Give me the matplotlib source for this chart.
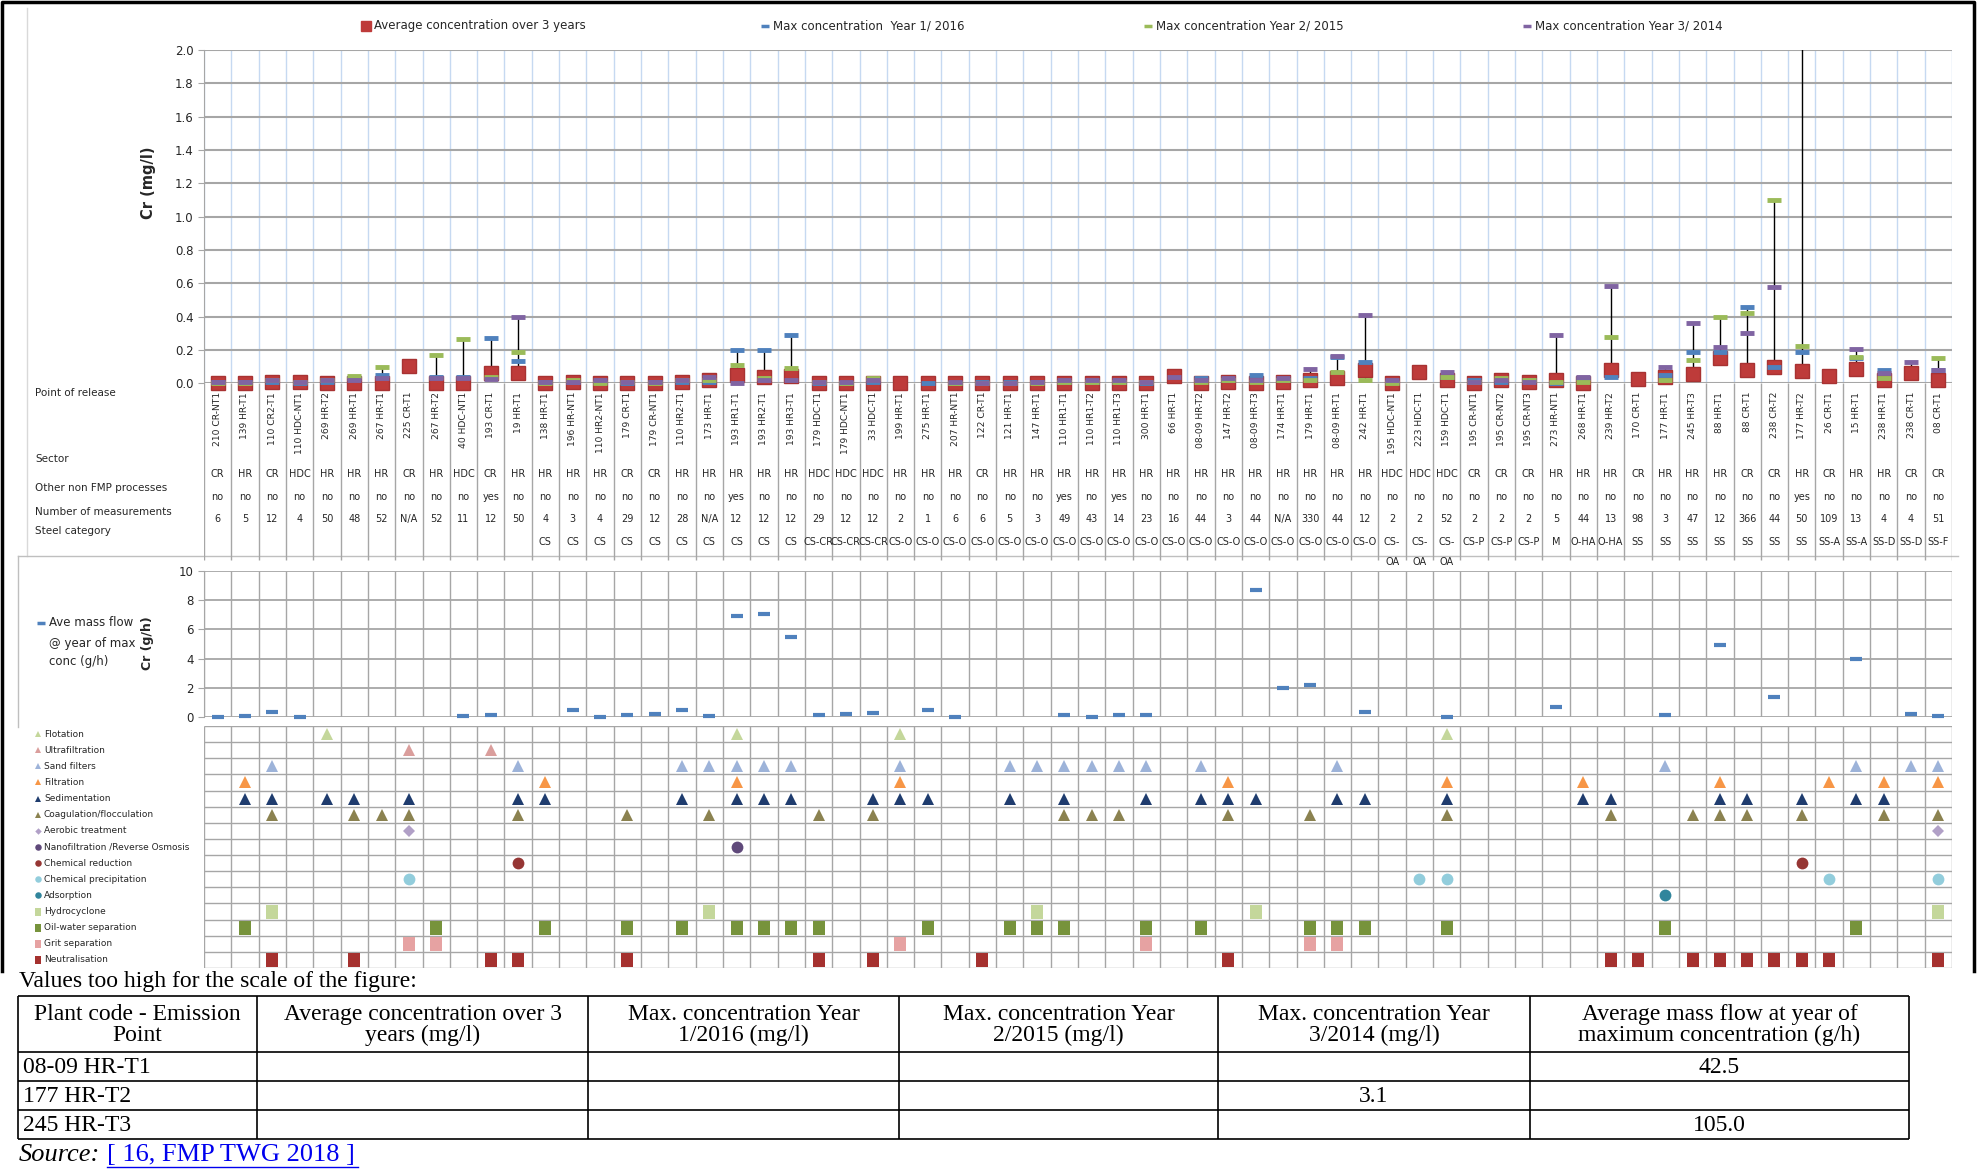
import numpy as np
import matplotlib.pyplot as plt

nan = np.nan

# ---- data ----
points = ["210 CR-NT1", "139 HR-T1", "110 CR2-T1", "110 HDC-NT1", "269 HR-T2", "269 HR-T1", "267 HR-T1",
          "225 CR-T1", "267 HR-T2", "40 HDC-NT1", "193 CR-T1", "19 HR-T1", "138 HR-T1", "196 HR-NT1",
          "110 HR2-NT1", "179 CR-T1", "179 CR-NT1", "110 HR2-T1", "173 HR-T1", "193 HR1-T1", "193 HR2-T1",
          "193 HR3-T1", "179 HDC-T1", "179 HDC-NT1", "33 HDC-T1", "199 HR-T1", "275 HR-T1", "207 HR-NT1",
          "122 CR-T1", "121 HR-T1", "147 HR-T1", "110 HR1-T1", "110 HR1-T2", "110 HR1-T3", "300 HR-T1",
          "66 HR-T1", "08-09 HR-T2", "147 HR-T2", "08-09 HR-T3", "174 HR-T1", "179 HR-T1", "08-09 HR-T1",
          "242 HR-T1", "195 HDC-NT1", "223 HDC-T1", "159 HDC-T1", "195 CR-NT1", "195 CR-NT2", "195 CR-NT3",
          "273 HR-NT1", "268 HR-T1", "239 HR-T2", "170 CR-T1", "177 HR-T1", "245 HR-T3", "88 HR-T1",
          "88 CR-T1", "238 CR-T2", "177 HR-T2", "26 CR-T1", "15 HR-T1", "238 HR-T1", "238 CR-T1", "08 CR-T1"]

sector = ["CR", "HR", "CR", "HDC", "HR", "HR", "HR", "CR", "HR", "HDC",
          "CR", "HR", "HR", "HR", "HR", "CR", "CR", "HR", "HR", "HR",
          "HR", "HR", "HDC", "HDC", "HDC", "HR", "HR", "HR", "CR", "HR",
          "HR", "HR", "HR", "HR", "HR", "HR", "HR", "HR", "HR", "HR",
          "HR", "HR", "HR", "HDC", "HDC", "HDC", "CR", "CR", "CR", "HR",
          "HR", "HR", "CR", "HR", "HR", "HR", "CR", "CR", "HR", "CR",
          "HR", "HR", "CR", "CR"]

other_proc = ["no", "no", "no", "no", "no", "no", "no", "no", "no", "no",
              "yes", "no", "no", "no", "no", "no", "no", "no", "no", "yes",
              "no", "no", "no", "no", "no", "no", "no", "no", "no", "no",
              "no", "yes", "no", "yes", "no", "no", "no", "no", "no", "no",
              "no", "no", "no", "no", "no", "no", "no", "no", "no", "no",
              "no", "no", "no", "no", "no", "no", "no", "no", "yes", "no",
              "no", "no", "no", "no"]

n_meas = ["6", "5", "12", "4", "50", "48", "52", "N/A", "52", "11",
          "12", "50", "4", "3", "4", "29", "12", "28", "N/A", "12",
          "12", "12", "29", "12", "12", "2", "1", "6", "6", "5",
          "3", "49", "43", "14", "23", "16", "44", "3", "44", "N/A",
          "330", "44", "12", "2", "2", "52", "2", "2", "2", "5",
          "44", "13", "98", "3", "47", "12", "366", "44", "50", "109",
          "13", "4", "4", "51"]

steel = ["", "", "", "", "", "", "", "", "", "",
         "", "", "CS", "CS", "CS", "CS", "CS", "CS", "CS", "CS",
         "CS", "CS", "CS-CR", "CS-CR", "CS-CR", "CS-O", "CS-O", "CS-O", "CS-O", "CS-O",
         "CS-O", "CS-O", "CS-O", "CS-O", "CS-O", "CS-O", "CS-O", "CS-O", "CS-O", "CS-O",
         "CS-O", "CS-O", "CS-O", "CS-\nOA", "CS-\nOA", "CS-\nOA", "CS-P", "CS-P", "CS-P", "M",
         "O-HA", "O-HA", "SS", "SS", "SS", "SS", "SS", "SS", "SS", "SS-A",
         "SS-A", "SS-D", "SS-D", "SS-F"]

avg_conc = [0.0, 0.0, 0.01, 0.01, 0.0, 0.0, 0.0, 0.105, 0.0, 0.0,
            0.06, 0.06, 0.0, 0.01, 0.0, 0.0, 0.0, 0.01, 0.02, 0.05,
            0.04, 0.045, 0.0, 0.0, 0.0, 0.0, 0.0, 0.0, 0.0, 0.0,
            0.0, 0.0, 0.0, 0.0, 0.0, 0.045, 0.0, 0.01, 0.0, 0.01,
            0.02, 0.03, 0.08, 0.0, 0.07, 0.02, 0.0, 0.02, 0.01, 0.02,
            0.0, 0.08, 0.025, 0.04, 0.055, 0.15, 0.08, 0.10, 0.075, 0.045,
            0.085, 0.02, 0.06, 0.02]

max_2016 = [0.01, 0.01, 0.01, 0.0, 0.01, 0.03, 0.05, nan, 0.04, 0.04,
            0.27, 0.135, 0.01, 0.01, 0.01, 0.0, 0.01, 0.01, 0.01, 0.20,
            0.20, 0.29, 0.0, 0.0, 0.01, nan, 0.0, 0.0, 0.01, 0.01,
            0.01, 0.01, 0.01, 0.01, 0.0, nan, 0.03, 0.02, 0.05, 0.02,
            0.03, 0.16, 0.13, 0.01, nan, 0.04, 0.02, 0.01, 0.02, 0.0,
            0.03, 0.04, nan, 0.05, 0.19, 0.19, 0.46, 0.10, 0.19, nan,
            0.15, 0.08, nan, 0.08]

max_2015 = [0.0, 0.0, 0.02, 0.01, 0.02, 0.045, 0.10, nan, 0.17, 0.265,
            0.04, 0.19, 0.0, 0.02, 0.0, 0.01, 0.0, 0.02, 0.02, 0.11,
            0.03, 0.09, 0.01, 0.0, 0.03, nan, nan, 0.0, 0.0, 0.0,
            0.0, 0.01, 0.01, 0.01, 0.01, nan, 0.01, 0.02, 0.01, 0.02,
            0.02, 0.07, 0.02, 0.0, nan, 0.04, 0.01, 0.03, 0.02, 0.01,
            0.01, 0.28, nan, 0.02, 0.14, 0.40, 0.42, 1.10, 0.225, nan,
            0.16, 0.03, nan, 0.15]

max_2014 = [0.01, 0.01, 0.02, 0.01, 0.02, 0.02, 0.03, nan, 0.03, 0.03,
            0.025, 0.40, 0.01, 0.01, 0.02, 0.01, 0.01, 0.02, 0.04, 0.0,
            0.02, 0.02, 0.01, 0.01, 0.02, nan, nan, 0.01, 0.0, 0.0,
            0.01, 0.02, 0.02, 0.02, 0.01, 0.04, 0.02, 0.03, 0.02, 0.03,
            0.085, 0.165, 0.41, 0.02, nan, 0.07, 0.01, 0.02, 0.01, 0.29,
            0.04, 0.585, nan, 0.10, 0.36, 0.215, 0.30, 0.58, 3.1, nan,
            0.205, 0.06, 0.13, 0.08]

mass_flow = [0.05, 0.1, 0.39, 0.05, nan, nan, nan, nan, nan, 0.1,
             0.18, nan, nan, 0.52, 0.05, 0.18, 0.23, 0.5, 0.07, 6.9,
             7.03, 5.5, 0.16, 0.2, 0.32, nan, 0.5, 0.0, nan, nan,
             nan, 0.15, 0.05, 0.13, 0.13, nan, nan, nan, 8.68, 2.0,
             2.2, nan, 0.36, nan, nan, 0.03, nan, nan, nan, 0.7,
             nan, nan, nan, 0.13, nan, 4.9, nan, 1.37, nan, nan,
             3.97, nan, 0.24, 0.12]

tech_names = ["Flotation", "Ultrafiltration", "Sand filters", "Filtration", "Sedimentation",
              "Coagulation/flocculation", "Aerobic treatment", "Nanofiltration /Reverse Osmosis",
              "Chemical reduction", "Chemical precipitation", "Adsorption", "Hydrocyclone",
              "Oil-water separation", "Grit separation", "Neutralisation"]
# column numbers (1-based) where each technique is applied
tech_columns = [
    [5, 20, 26, 46],
    [8, 11],
    [3, 12, 18, 19, 20, 21, 22, 26, 30, 31, 32, 33, 34, 35, 37, 42, 54, 61, 63, 64],
    [2, 13, 20, 26, 38, 46, 51, 56, 60, 62, 64],
    [2, 3, 5, 6, 8, 12, 13, 18, 20, 21, 22, 25, 26, 27, 30, 32, 35, 37, 38, 39, 42, 43, 46,
     51, 52, 56, 57, 59, 61, 62],
    [3, 6, 7, 8, 12, 16, 19, 23, 25, 32, 33, 34, 38, 41, 46, 52, 55, 56, 57, 59, 62, 64],
    [8, 64],
    [20],
    [12, 59],
    [8, 45, 46, 60, 64],
    [54],
    [3, 19, 31, 39, 64],
    [2, 9, 13, 16, 18, 20, 21, 22, 23, 27, 30, 31, 32, 35, 37, 41, 42, 43, 46, 54, 61],
    [8, 9, 26, 35, 41, 42],
    [3, 6, 11, 12, 16, 23, 25, 29, 38, 52, 53, 55, 56, 57, 58, 59, 60, 64],
]

table_header = ["Plant code - Emission\nPoint", "Average concentration over 3\nyears (mg/l)",
                "Max. concentration Year\n1/2016 (mg/l)", "Max. concentration Year\n2/2015 (mg/l)",
                "Max. concentration Year\n3/2014 (mg/l)", "Average mass flow at year of\nmaximum concentration (g/h)"]
table_rows = [["08-09 HR-T1", "", "", "", "", "42.5"],
              ["177 HR-T2", "", "", "", "3.1", ""],
              ["245 HR-T3", "", "", "", "", "105.0"]]

# ---- styling ----
RED = '#BE3B3A'
BLUE = '#4F81BD'
GREEN = '#9BBB59'
PURPLE = '#8064A2'
GRAY = '#A6A6A6'
TXT = '#262626'
rect = [(-0.42, -0.5), (0.42, -0.5), (0.42, 0.5), (-0.42, 0.5), (-0.42, -0.5)]
tech_markers = ['^', '^', '^', '^', '^', '^', 'D', 'o', 'o', 'o', 'o', rect, rect, rect, rect]
tech_colors = ['#C4D79B', '#DA9E9C', '#9DB3D9', '#F79646', '#1F3C6E', '#8B8250', '#B1A0C7',
               '#5F497A', '#963634', '#92CDDC', '#31859C', '#C4D79B', '#77933C', '#E6A2A2', '#A5312F']
tech_sizes = [8.5, 8.5, 8.5, 8.5, 8.5, 8.5, 6, 8.5, 8.5, 8.5, 8.5, 9.5, 9.5, 9.5, 9.5]

W, H = 1977, 1169
plt.rcParams['font.family'] = 'DejaVu Sans'
fig = plt.figure(figsize=(W / 100, H / 100), dpi=100)


def box(x0, y0, x1, y1):
    # pixel box (top-left origin) -> figure fraction rect
    return [x0 / W, 1 - y1 / H, (x1 - x0) / W, (y1 - y0) / H]


# overlay in pixel coordinates for frame, legends and the table below
ov = fig.add_axes([0, 0, 1, 1])
ov.set_xlim(0, W)
ov.set_ylim(H, 0)
ov.axis('off')

n = len(points)
x = np.arange(1, n + 1)
bounds = np.arange(0.5, n + 1)
X0, X1 = 204, 1952

# ---- top chart: Cr concentration ----
ax = fig.add_axes(box(X0, 50, X1, 383.3))
ax.patch.set_alpha(0)
ax.set_xlim(0.5, n + 0.5)
ymax = 2.0
ax.set_ylim(0, ymax)
yt = np.arange(0, ymax + 0.01, 0.2)
ax.set_yticks(yt)
ax.set_yticklabels([f'{v:.1f}' for v in yt])
ax.set_xticks([])
ax.yaxis.grid(True, color=GRAY, lw=1.5)
ax.set_axisbelow(True)
ax.vlines(bounds, 0, ymax, color='#C6D9F1', lw=1, zorder=0.5)
for s in ['top', 'right', 'bottom']:
    ax.spines[s].set_visible(False)
ax.spines['left'].set_color(GRAY)
ax.tick_params(axis='y', labelsize=8.5, colors=TXT, length=4, color=GRAY)

series = np.array([avg_conc, max_2016, max_2015, max_2014])
lo = np.nanmin(series, axis=0)
hi = np.nanmax(series, axis=0)
ax.vlines(x, lo, hi, color='black', lw=1, zorder=2)
ax.plot(x, avg_conc, ls='none', marker='s', ms=9.5, color=RED, mec='#A83232',
        clip_on=False, zorder=3)
for vals, col in [(max_2016, BLUE), (max_2015, GREEN), (max_2014, PURPLE)]:
    v = np.array(vals)
    v = np.where(v <= ymax, v, np.nan)
    ax.plot(x, v, ls='none', marker='_', ms=10, mew=3.5, color=col, clip_on=False, zorder=4)

ov.text(148, 183, 'Cr (mg/l)', rotation=90, fontsize=10.5, fontweight='bold',
        ha='center', va='center', color=TXT)

# legend across the top
ov.plot(366, 26, marker='s', ms=7, color=RED)
ov.text(374, 26, 'Average concentration over 3 years', fontsize=8.5, va='center', color=TXT)
ov.plot(765, 26, marker='_', ms=6, mew=2.5, color=BLUE)
ov.text(773, 26, 'Max concentration  Year 1/ 2016', fontsize=8.5, va='center', color=TXT)
ov.plot(1148, 26, marker='_', ms=6, mew=2.5, color=GREEN)
ov.text(1156, 26, 'Max concentration Year 2/ 2015', fontsize=8.5, va='center', color=TXT)
ov.plot(1527, 26, marker='_', ms=6, mew=2.5, color=PURPLE)
ov.text(1535, 26, 'Max concentration Year 3/ 2014', fontsize=8.5, va='center', color=TXT)

# ---- category table under the chart ----
axt = fig.add_axes(box(X0, 383.3, X1, 562))
axt.set_xlim(0.5, n + 0.5)
axt.set_ylim(562, 383.3)
axt.axis('off')
axt.vlines(bounds, 383.3, 560, color=GRAY, lw=1)
for i in range(n):
    xi = x[i]
    axt.text(xi, 392, points[i], rotation=90, ha='center', va='top', fontsize=6.6, color=TXT)
    axt.text(xi, 474, sector[i], ha='center', va='center', fontsize=7, color=TXT)
    axt.text(xi, 497, other_proc[i], ha='center', va='center', fontsize=7, color=TXT)
    axt.text(xi, 519, n_meas[i], ha='center', va='center', fontsize=7, color=TXT)
    axt.text(xi, 537, steel[i], ha='center', va='top', fontsize=7, color=TXT, linespacing=2.2)

for label, yy in [('Point of release', 393), ('Sector', 459), ('Other non FMP processes', 488),
                  ('Number of measurements', 512), ('Steel category', 531)]:
    ov.text(35, yy, label, fontsize=7.5, va='center', color=TXT)

# ---- mass flow chart ----
axm = fig.add_axes(box(X0, 570.7, X1, 717.3))
axm.patch.set_alpha(0)
axm.set_xlim(0.5, n + 0.5)
axm.set_ylim(0, 10)
axm.set_yticks(np.arange(0, 11, 2))
axm.set_xticks([])
axm.yaxis.grid(True, color=GRAY, lw=1.3)
axm.set_axisbelow(True)
axm.vlines(bounds, 0, 10, color=GRAY, lw=1, zorder=0.5)
for s in ['top', 'right', 'bottom']:
    axm.spines[s].set_visible(False)
axm.spines['left'].set_color(GRAY)
axm.tick_params(axis='y', labelsize=8.5, colors=TXT, length=4, color=GRAY)
axm.plot(x, mass_flow, ls='none', marker='_', ms=9, mew=3, color=BLUE, clip_on=False, zorder=3)

ov.text(148, 643, 'Cr (g/h)', rotation=90, fontsize=9, fontweight='bold',
        ha='center', va='center', color=TXT)
ov.plot(41, 623, marker='_', ms=6, mew=2.5, color=BLUE)
ov.text(49, 623, 'Ave mass flow', fontsize=8.5, va='center', color=TXT)
ov.text(49, 643, '@ year of max', fontsize=8.5, va='center', color=TXT)
ov.text(49, 662, 'conc (g/h)', fontsize=8.5, va='center', color=TXT)

# ---- technique grid ----
G0, G1 = 726, 968
axg = fig.add_axes(box(X0, G0, X1, G1))
axg.patch.set_alpha(0)
axg.set_xlim(0.5, n + 0.5)
axg.set_ylim(len(tech_names), 0)
axg.axis('off')
axg.hlines(np.arange(len(tech_names) + 1), 0.5, n + 0.5, color=GRAY, lw=1)
axg.vlines(bounds, 0, len(tech_names), color=GRAY, lw=1)
row_h = (G1 - G0) / len(tech_names)
for r, name in enumerate(tech_names):
    cols = tech_columns[r]
    axg.plot(cols, np.full(len(cols), r + 0.5), ls='none', marker=tech_markers[r],
             ms=tech_sizes[r], color=tech_colors[r], mew=0)
    yy = G0 + row_h * (r + 0.5)
    ov.plot(38, yy, marker=tech_markers[r], ms=tech_sizes[r] * 0.55, color=tech_colors[r], mew=0)
    ov.text(44, yy, name, fontsize=6.5, va='center', color=TXT)

# ---- frames (top, left, right; open at the bottom) ----
ov.plot([2, 2, 1974, 1974], [971, 2, 2, 971], color='black', lw=2.5)
ov.plot([27, 27], [8, 556], color='#D9D9D9', lw=1)
ov.plot([18, 1958], [556, 556], color='#BFBFBF', lw=1)
ov.plot([18, 18], [556, 727], color='#BFBFBF', lw=1)

# ---- table of off-scale values ----
serif = 'Liberation Serif'
FS = 17
ov.text(19, 982, 'Values too high for the scale of the figure:', fontsize=FS,
        family=serif, va='center')
col_x = [18, 257, 588, 899, 1218, 1530, 1909]
row_y = [996, 1052, 1081, 1110, 1139]
ov.hlines(row_y, col_x[0], col_x[-1], color='black', lw=1.2)
ov.vlines(col_x, row_y[0], row_y[-1], color='black', lw=1.2)
for j, head in enumerate(table_header):
    ov.text((col_x[j] + col_x[j + 1]) / 2, (row_y[0] + row_y[1]) / 2 + 1, head, fontsize=FS,
            family=serif, ha='center', va='center', linespacing=0.95)
for i, row in enumerate(table_rows):
    yc = (row_y[i + 1] + row_y[i + 2]) / 2 + 1
    ov.text(col_x[0] + 5, yc, row[0], fontsize=FS, family=serif, va='center')
    for j in range(1, len(row)):
        if row[j]:
            ov.text((col_x[j] + col_x[j + 1]) / 2, yc, row[j], fontsize=FS, family=serif,
                    ha='center', va='center')

ov.text(19, 1155, 'Source:', fontsize=19, family=serif, style='italic', va='center')
ov.text(107, 1155, '[ 16, FMP TWG 2018 ]', fontsize=19, family=serif, va='center', color='#0000EE')
ov.plot([107, 358], [1167, 1167], color='#0000EE', lw=1)

fig.savefig('out.png', dpi=100)
